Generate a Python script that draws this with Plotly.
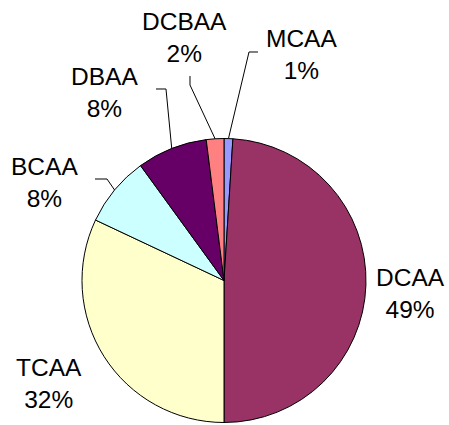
import math
import plotly.graph_objects as go

# Share of each haloacetic acid species (%)
species = ["MCAA", "DCAA", "TCAA", "BCAA", "DBAA", "DCBAA"]
shares = [1, 49, 32, 8, 8, 2]
colors = ["#9999FF", "#993366", "#FFFFCC", "#CCFFFF", "#660066", "#FF8080"]

W, H = 449, 425
CX, CY, R = 224, 280.5, 142  # pie centre and radius in pixels


def px(x, y):
    return x / W, 1 - y / H


# label centres and leader-line knees (pixels)
label_pos = {
    "MCAA": (301.5, 55),
    "DCAA": (410.5, 293),
    "TCAA": (49, 383),
    "BCAA": (44.5, 182),
    "DBAA": (104, 93),
    "DCBAA": (184.5, 38),
}
leader_knees = {
    "MCAA": [(258, 52), (249, 52)],
    "DCBAA": [(190, 76), (190, 85)],
    "DBAA": [(156, 89), (166, 89)],
    "BCAA": [(95, 179), (107, 179)],
}

fig = go.Figure(
    go.Pie(
        labels=species,
        values=shares,
        sort=False,
        direction="clockwise",
        rotation=0,
        marker=dict(colors=colors, line=dict(color="black", width=1)),
        textinfo="none",
        hoverinfo="label+percent",
        showlegend=False,
        domain=dict(
            x=[(CX - R) / W, (CX + R) / W],
            y=[(H - CY - R) / H, (H - CY + R) / H],
        ),
    )
)

total = sum(shares)
cum = 0
annotations = []
shapes = []
for name, v in zip(species, shares):
    mid = 2 * math.pi * (cum + v / 2) / total
    cum += v
    pct = round(100 * v / total)
    lx, ly = label_pos[name]
    ax, ay = px(lx, ly)
    annotations.append(
        dict(
            x=ax, y=ay, xref="paper", yref="paper",
            text=f"{name}<br>{pct}%", showarrow=False,
            xanchor="center", yanchor="middle", align="center",
            font=dict(family="Liberation Sans, Arial", size=24.5, color="black"),
        )
    )
    if name in leader_knees:
        rim = (CX + R * math.sin(mid), CY - R * math.cos(mid))
        pts = leader_knees[name] + [rim]
        path = ""
        for i, (x, y) in enumerate(pts):
            X, Y = px(x, y)
            path += ("M" if i == 0 else "L") + f"{X:.5f},{Y:.5f} "
        shapes.append(
            dict(type="path", path=path.strip(), xref="paper", yref="paper",
                 line=dict(color="black", width=1))
        )

fig.update_layout(
    width=W, height=H,
    margin=dict(l=0, r=0, t=0, b=0),
    paper_bgcolor="white",
    plot_bgcolor="white",
    annotations=annotations,
    shapes=shapes,
)

fig.write_html("out.html")
